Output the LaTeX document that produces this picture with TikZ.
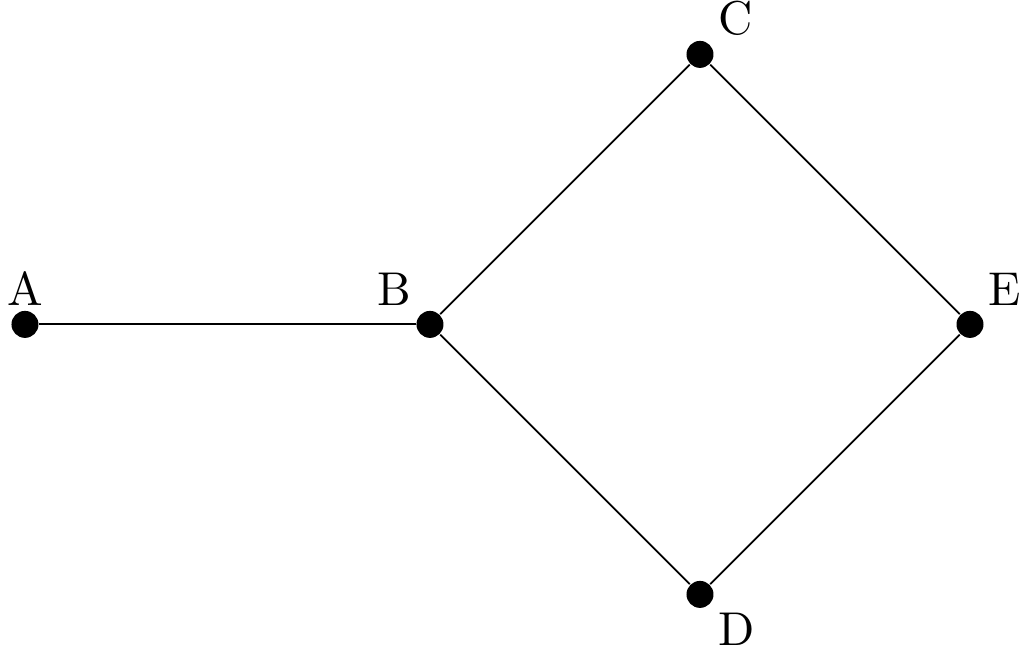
\documentclass[tikz,border=0pt]{standalone}
\begin{document}
\begin{tikzpicture}[punkt/.style={circle, fill=black, inner sep=0pt, minimum size=0.2cm}, label distance=-2.5pt]
        % Rahmen
        \useasboundingbox (-0.185, -2.39) rectangle (7.4, 2.403);

        % Knoten
        \node[punkt, label=above:A] (A) at (0, 0) {};
        \node[punkt, label=above left:B] (B) at (3, 0) {};
        \node[punkt, label=above right:C] (C) at (5, 2) {};
        \node[punkt, label=below right:D] (D) at (5, -2) {};
        \node[punkt, label=above right:E] (E) at (7, 0) {};

        % Kanten
        \draw (A) -- (B);
        \draw (B) -- (C);
        \draw (B) -- (D);
        \draw (C) -- (E);
        \draw (D) -- (E);

    \end{tikzpicture}
\end{document}
